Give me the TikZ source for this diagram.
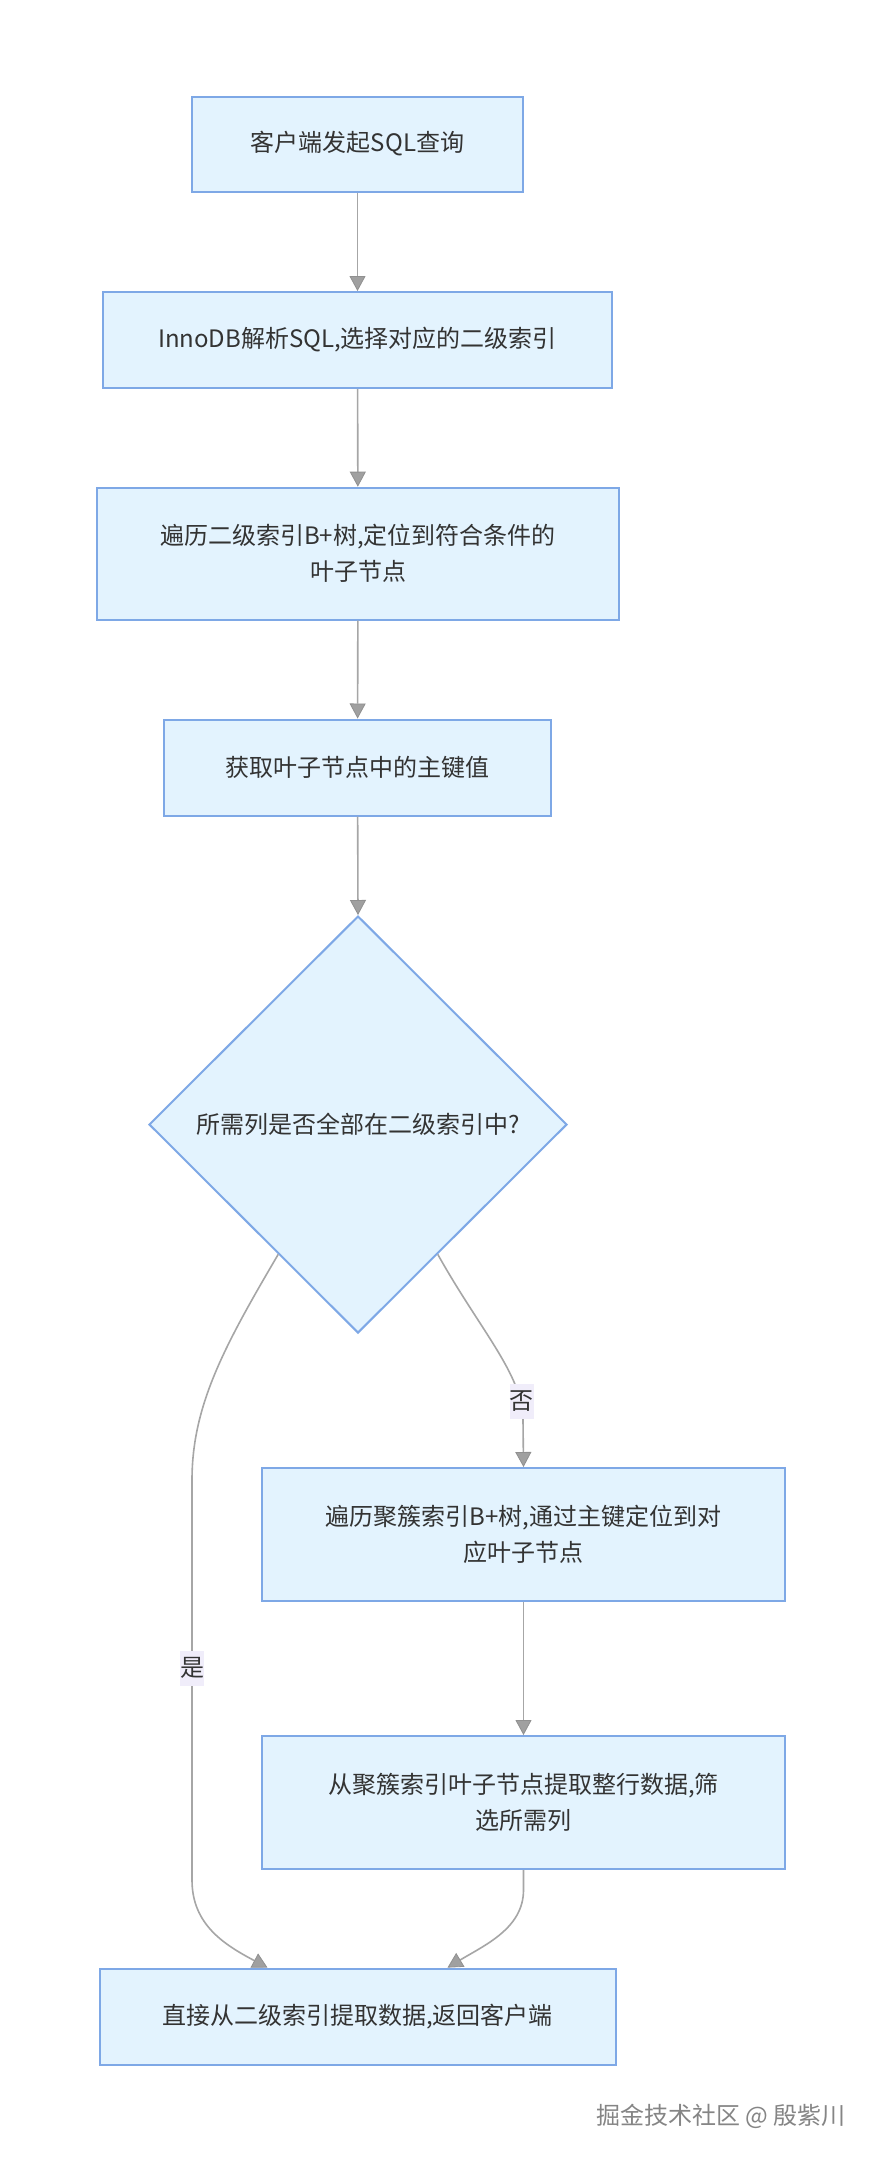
\documentclass[tikz,border=0pt]{standalone}
\usepackage{fontspec}
\setmainfont{Noto Sans CJK SC}
\usetikzlibrary{arrows.meta,shapes.geometric,calc}
\definecolor{boxfill}{HTML}{E3F3FE}
\definecolor{boxline}{HTML}{7EA8E6}
\definecolor{txt}{HTML}{333333}
\definecolor{edge}{HTML}{A6A6A6}
\definecolor{tipfill}{HTML}{A0A0A0}
\definecolor{lblbg}{HTML}{F0EDFA}
\definecolor{wm}{HTML}{858585}
\begin{document}
\begin{tikzpicture}[x=1pt,y=-1pt,
  every node/.style={text=txt,font=\fontsize{24}{36}\selectfont},
  procbox/.style={draw=boxline,fill=boxfill,line width=2pt,rectangle,inner sep=0pt,align=center},
  decide/.style={draw=boxline,fill=boxfill,line width=2pt,diamond,inner sep=0pt,minimum width=418pt,minimum height=417pt},
  flow/.style={draw=edge,line width=1.6pt,-{Triangle[length=15pt,width=16pt,fill=tipfill,color=tipfill!90!black,line width=0.8pt]}},
  edgelbl/.style={fill=lblbg,inner sep=0pt,minimum height=35pt,minimum width=24pt}
]
\useasboundingbox (0,0) rectangle (877,2160);
\fill[white] (0,0) rectangle (877,2160);

\node[procbox,minimum width=331pt,minimum height=95pt] (b1) at (357.5,144) {客户端发起SQL查询};
\node[procbox,minimum width=509pt,minimum height=96pt] (b2) at (357.5,340) {InnoDB解析SQL,选择对应的二级索引};
\node[procbox,minimum width=522pt,minimum height=132pt] (b3) at (358,553.7) {遍历二级索引B+树,定位到符合条件的\\叶子节点};
\node[procbox,minimum width=387pt,minimum height=96pt] (b4) at (357.5,767.5) {获取叶子节点中的主键值};
\node[decide] (d) at (358,1124.5) {所需列是否全部在二级索引中?};
\node[procbox,minimum width=523pt,minimum height=133pt] (b5) at (523.5,1534.5) {遍历聚簇索引B+树,通过主键定位到对\\应叶子节点};
\node[procbox,minimum width=523pt,minimum height=133pt] (b6) at (523.5,1802.5) {从聚簇索引叶子节点提取整行数据,筛\\选所需列};
\node[procbox,minimum width=516pt,minimum height=96pt] (b7) at (357.5,2016.6) {直接从二级索引提取数据,返回客户端};

\coordinate (dl) at ($(d.west)!0.62!(d.south)$);
\coordinate (dr) at ($(d.east)!0.62!(d.south)$);
\coordinate (b7l) at ([xshift=-90pt]b7.north);
\coordinate (b7r) at ([xshift=90pt]b7.north);

\draw[flow] (b1) -- (b2);
\draw[flow] (b2) -- (b3);
\draw[flow] (b3) -- (b4);
\draw[flow] (b4) -- (d.north);
\draw[flow] (dr) .. controls (480,1330) and (523,1375) .. (523,1420) -- (b5.north);
\draw[flow] (b5) -- (b6);
\draw[flow] (dl) .. controls (225,1345) and (192,1405) .. (192,1480) -- (192,1880) .. controls (192,1925) and (225,1945) .. (b7l);
\draw[flow] (b6.south) -- (523.5,1890) .. controls (523.5,1928) and (485,1945) .. (b7r);

\node[edgelbl] (no) at (521.5,1401) {否};
\node[edgelbl] (yes) at (192,1668) {是};

\node[text=wm,font=\fontsize{24}{30}\selectfont] (mark) at (721,2116) {掘金技术社区 @ 殷紫川};
\end{tikzpicture}
\end{document}
